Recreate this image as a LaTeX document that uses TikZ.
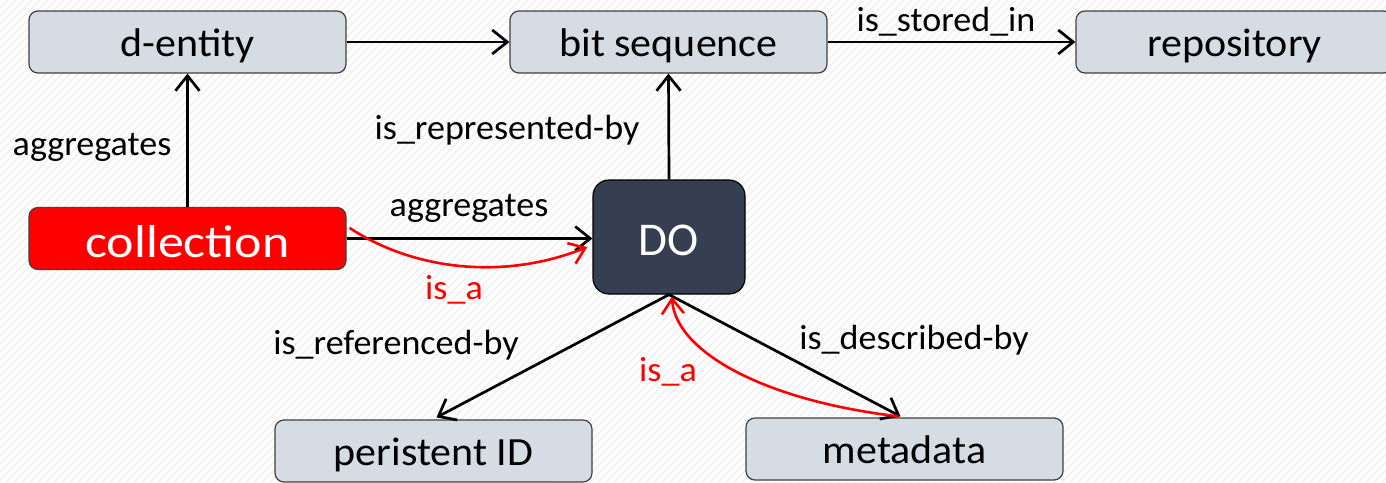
\documentclass[tikz,border=0pt]{standalone}
\usepackage{fontspec}
\setmainfont{Carlito}
\newfontfamily\nodefont{Carlito}[FakeStretch=1.05]
\newfontfamily\collfont{Carlito}[FakeStretch=1.13]
\newfontfamily\lblfont{Carlito}[FakeStretch=1.03]
\usetikzlibrary{arrows.meta,calc}
\definecolor{boxfill}{HTML}{D5DCE4}
\definecolor{boxline}{HTML}{404040}
\definecolor{dofill}{HTML}{353F51}
\definecolor{red1}{HTML}{FF0000}
\definecolor{hatch}{HTML}{F1F1F1}
\tikzset{
  entity/.style={draw=boxline, line width=1.2pt, fill=boxfill, rounded corners=9pt,
    minimum width=317pt, minimum height=62pt, inner sep=0pt,
    text height=38pt, text depth=10pt,
    font=\nodefont\fontsize{40}{44}\selectfont, text=black},
  collbox/.style={entity, fill=red1, text=white, text height=45pt, text depth=8pt,
    font=\collfont\fontsize{46}{50}\selectfont},
  dobox/.style={draw=black, line width=1.2pt, fill=dofill, rounded corners=16pt,
    minimum width=152pt, minimum height=114pt, inner sep=0pt,
    text height=40pt, text depth=4pt,
    text=white, font=\fontsize{47}{50}\selectfont},
  rel/.style={draw=black, line width=2.7pt, -{Straight Barb[length=15pt,width=24pt,line width=2.7pt]}},
  isa/.style={draw=red1, line width=2.6pt, -{Straight Barb[length=15pt,width=22pt,line width=2.6pt]}},
  lbl/.style={font=\lblfont\fontsize{35}{38}\selectfont, text=black, inner sep=0pt},
  isalbl/.style={lbl, text=red1},
}
\begin{document}
\begin{tikzpicture}[x=1pt,y=-1pt]
\useasboundingbox (0,0) rectangle (1386,482);
\fill[white] (0,0) rectangle (1386,482);
\clip (0,0) rectangle (1386,482);
\foreach \i in {-490,-482,...,1390} {
  \draw[hatch, line width=1.6pt] (\i,482) -- ({\i+482},0);
}
% nodes
\node[entity] (dent) at (187.5,42) {d-entity};
\node[entity] (bits) at (668.5,42) {bit sequence};
\node[entity] (repo) at (1234.5,42) {repository};
\node[collbox] (coll) at (187.5,238.5) {collection};
\node[dobox] (DO) at (669,237) {DO};
\node[entity] (pid) at (433.5,451) {peristent ID};
\node[entity] (meta) at (904.5,449) {metadata};
% connectors
\draw[rel] (dent.east) -- (bits.west);
\draw[rel] (bits.east) -- (repo.west);
\draw[rel] (coll.north) -- (dent.south);
\draw[rel] (DO.north) -- (bits.south);
\draw[rel] (coll.east) -- (DO.west |- coll.east);
\draw[rel] (DO.south) -- ($(pid.north)+(3,-2)$);
\draw[rel] (DO.south) -- ($(meta.north)+(-4,-1)$);
% red is_a curves
\coordinate (isa1s) at ($(coll.north east)+(3,21)$);
\coordinate (isa1e) at ($(DO.west)+(-5,10)$);
\draw[isa] (isa1s) .. controls (410,268) and (500,282) .. (isa1e);
\coordinate (isa2s) at ($(meta.north)+(-6,-1)$);
\coordinate (isa2e) at ($(DO.south)+(3,2)$);
\draw[isa] (isa2s) .. controls (760,400) and (675,350) .. (isa2e);
% labels
\node[lbl] (l1) at (946,22) {is\_stored\_in};
\node[lbl] (l2) at (92,147) {aggregates};
\node[lbl] (l3) at (507,130) {is\_represented-by};
\node[lbl] (l4) at (469,208) {aggregates};
\node[isalbl] (l5) at (454,290) {is\_a};
\node[lbl] (l6) at (396,345) {is\_referenced-by};
\node[lbl] (l7) at (914,340) {is\_described-by};
\node[isalbl] (l8) at (668,372) {is\_a};
\end{tikzpicture}
\end{document}
